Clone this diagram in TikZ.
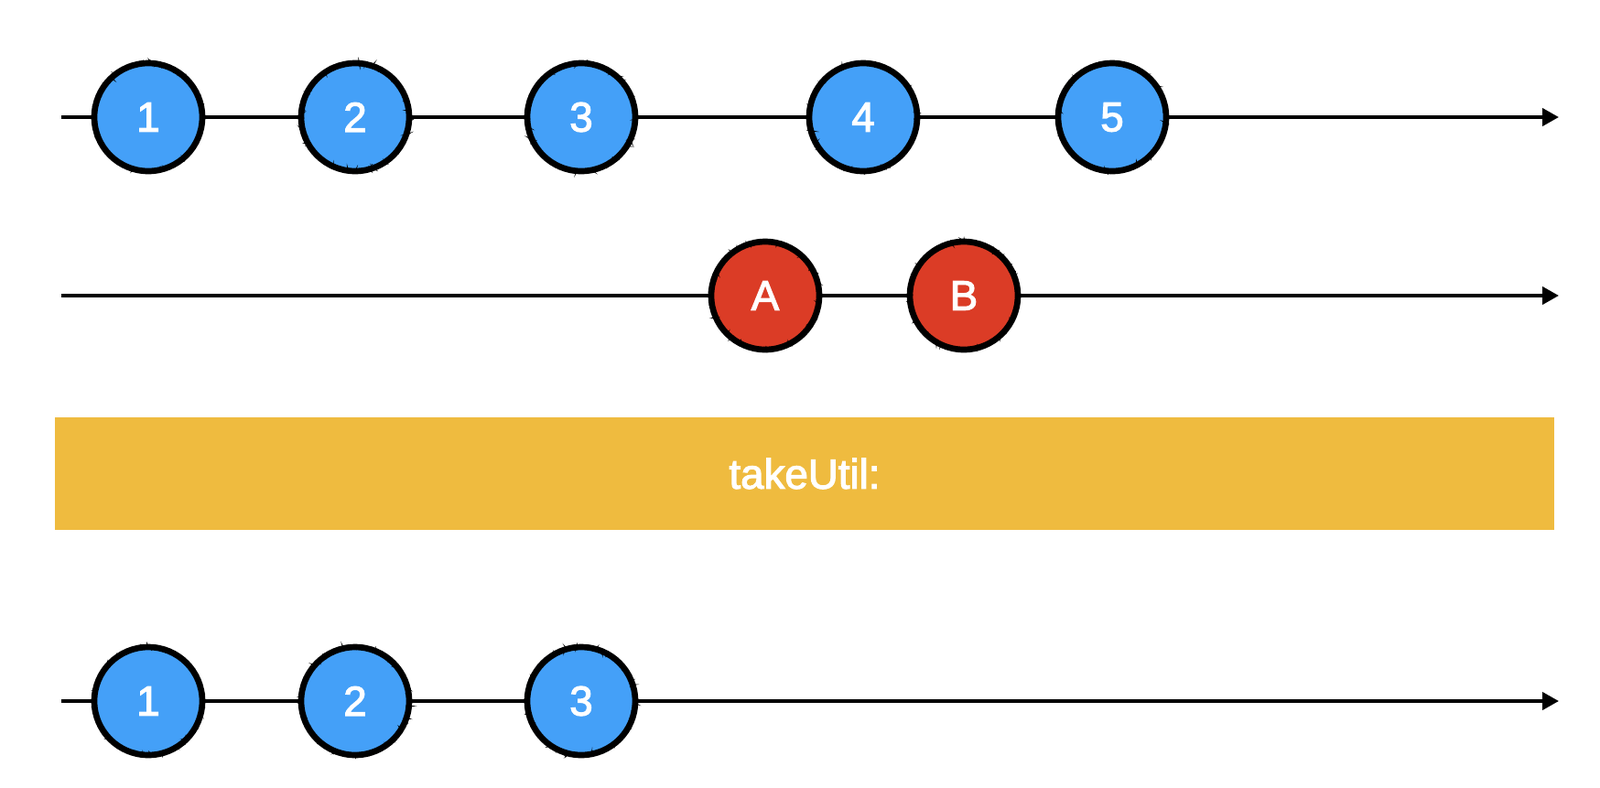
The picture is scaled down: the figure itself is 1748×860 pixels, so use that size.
\documentclass[tikz,border=0pt]{standalone}
\usepackage{fontspec}
\setmainfont{Liberation Sans}
\newfontfamily\marblefont{Liberation Sans}[FakeBold=2.5]
\usetikzlibrary{arrows.meta, decorations.pathmorphing}
\definecolor{mblue}{RGB}{68,160,248}
\definecolor{mred}{RGB}{219,60,38}
\definecolor{myellow}{RGB}{239,187,63}

\tikzset{
  ball/.style={circle, draw=black, line width=3.8pt, minimum size=2.36cm, inner sep=0pt,
    text=white, font=\marblefont\fontsize{26}{30}\selectfont,
    postaction={draw=black, line width=0.8pt, decorate,
      decoration={random steps, segment length=0.7pt, amplitude=1.2pt}}},
  timeline/.style={line width=2.2pt, -{Triangle[length=0.36cm, width=0.38cm]}},
}

\begin{document}
\begin{tikzpicture}[x=0.02cm, y=-0.02cm]
\useasboundingbox (0,0) rectangle (1748,860);

% source stream
\coordinate (s1) at (67,128);
\coordinate (e1) at (1703,128);
\draw[timeline] (s1) -- (e1);
\foreach \v/\x in {1/162, 2/388, 3/635, 4/943, 5/1215}
  \node[ball, fill=mblue] (a\v) at (\x,128) {\v};

% notifier stream
\coordinate (s2) at (67,323);
\coordinate (e2) at (1703,323);
\draw[timeline] (s2) -- (e2);
\node[ball, fill=mred] (bA) at (836,323) {A};
\node[ball, fill=mred] (bB) at (1053,323) {B};

% operator
\node[fill=myellow, minimum width=32.76cm, minimum height=2.46cm, inner sep=0pt,
  text=white, font=\marblefont\fontsize{26}{30}\selectfont] (op) at (879,517.5) {takeUtil:};

% result stream
\coordinate (s3) at (67,766);
\coordinate (e3) at (1703,766);
\draw[timeline] (s3) -- (e3);
\foreach \v/\x in {1/162, 2/388, 3/635}
  \node[ball, fill=mblue] (c\v) at (\x,766) {\v};
\end{tikzpicture}
\end{document}
